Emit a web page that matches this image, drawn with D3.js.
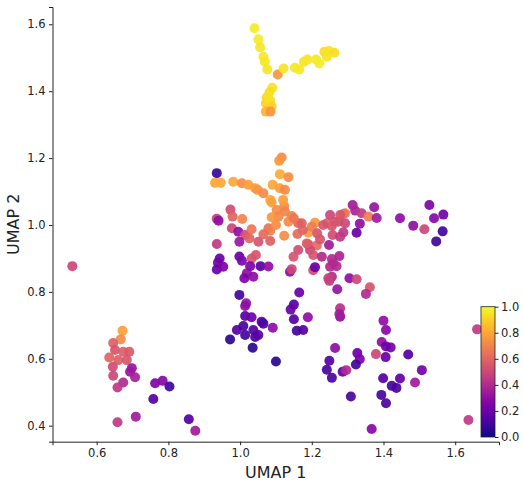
<!DOCTYPE html>
<html>
<head>
<meta charset="utf-8">
<script src="https://cdnjs.cloudflare.com/ajax/libs/d3/7.8.5/d3.min.js"></script>
<style>
  body { margin: 0; background: #fff; }
  svg text { font-family: "DejaVu Sans", sans-serif; fill: #222; }
</style>
</head>
<body>
<div id="my_dataviz"></div>
<script>
// UMAP coordinates and the colour value of each point
const umap1 = [
  1.040, 1.051, 1.056, 1.065, 1.069, 1.076, 1.105, 1.121, 1.153, 1.165, 1.178, 1.188, 1.212, 1.221, 1.235, 1.248, 1.263, 1.242,
  1.090, 1.082, 1.074, 1.072, 1.084, 1.088, 1.072, 1.085, 1.078,
  0.935, 0.930, 0.946, 0.981, 1.005, 1.023, 1.042, 1.049, 1.065, 1.084, 1.088, 1.091, 1.111, 1.125, 1.116, 1.109, 1.111, 1.135,
  1.102, 1.123, 1.125, 1.144, 1.107, 1.088, 1.135, 1.079, 1.084, 1.162, 1.160, 1.123, 1.190, 1.209, 1.200,
  0.973, 0.979, 1.006, 0.935, 0.940, 0.977, 0.995, 1.014, 1.032, 1.065, 1.026, 1.051, 0.998, 1.084, 0.935,
  1.162, 1.190, 1.214, 1.223, 1.248, 1.256, 1.242, 1.274, 1.288, 1.314, 1.321, 1.339, 1.358, 1.374, 1.381, 1.334, 1.325,
  1.288, 1.258, 1.279, 1.293, 1.232, 1.265, 1.279, 1.293, 1.195, 1.149, 1.204, 1.228, 1.256, 1.277, 1.269, 1.204, 1.209,
  1.139, 1.144, 1.256, 1.249, 1.305, 1.325, 1.362, 1.351, 1.271, 1.251, 1.260, 1.246,
  1.446, 1.483, 1.514, 1.528, 1.541, 1.567, 1.565, 1.547,
  0.943, 0.938, 0.935, 0.953, 0.998, 1.005, 1.032, 1.044, 1.028, 1.057, 1.079, 1.019, 1.012, 1.037,
  0.998, 1.017, 1.014, 1.165, 1.150, 1.141, 1.150, 1.189, 1.014, 1.032, 1.060, 0.991, 0.972, 1.009, 1.014, 1.037, 1.042,
  1.051, 1.091, 1.035, 1.100, 1.158, 1.176, 1.065, 1.279, 1.279, 1.277,
  1.400, 1.407, 1.395, 1.407, 1.420, 1.406, 1.379, 1.469, 1.265, 1.249, 1.242, 1.256, 1.286, 1.296, 1.327, 1.334, 1.323,
  1.399, 1.423, 1.436, 1.446, 1.507, 1.488, 1.309, 1.394, 1.407, 1.367, 1.637, 1.661,
  0.532, 0.672, 0.667, 0.646, 0.651, 0.635, 0.660, 0.674, 0.691, 0.684, 0.645, 0.646, 0.698, 0.693, 0.707, 0.674, 0.658,
  0.763, 0.784, 0.803, 0.758, 0.658, 0.709, 0.857, 0.875,
  1.251, 1.172, 1.186, 1.150, 1.175, 1.215, 1.100, 1.120
];
const umap2 = [
  1.588, 1.555, 1.531, 1.503, 1.488, 1.465, 1.450, 1.468, 1.470, 1.465, 1.488, 1.495, 1.495, 1.483, 1.518, 1.520, 1.515, 1.503,
  1.410, 1.397, 1.381, 1.364, 1.371, 1.354, 1.339, 1.339, 1.380,
  1.155, 1.126, 1.126, 1.129, 1.125, 1.120, 1.110, 1.105, 1.095, 1.075, 1.067, 1.120, 1.110, 1.105, 1.202, 1.192, 1.152, 1.143,
  1.045, 1.057, 1.040, 1.027, 1.025, 1.023, 1.010, 0.990, 0.983, 1.005, 0.973, 0.968, 0.977, 1.007, 0.995,
  1.046, 1.025, 1.018, 1.019, 1.013, 0.990, 0.980, 0.970, 0.987, 0.972, 0.960, 0.950, 0.950, 0.952, 0.943,
  0.925, 0.942, 0.939, 0.957, 0.940, 0.997, 1.005, 1.010, 1.033, 1.060, 1.043, 1.035, 1.025, 1.053, 1.021, 1.004, 0.977,
  0.978, 0.970, 0.965, 1.035, 1.000, 1.010, 1.030, 1.005, 0.925, 0.905, 0.910, 0.905, 0.898, 0.907, 0.877, 0.865, 0.874,
  0.860, 0.868, 0.845, 0.833, 0.841, 0.838, 0.814, 0.794, 0.808, 0.875, 0.885, 0.841,
  1.020, 0.998, 0.987, 1.060, 1.020, 1.031, 0.981, 0.951,
  0.900, 0.887, 0.867, 0.875, 0.906, 0.893, 0.900, 0.910, 0.877, 0.877, 0.876, 0.856, 0.841, 0.845,
  0.791, 0.766, 0.758, 0.798, 0.762, 0.747, 0.718, 0.724, 0.728, 0.724, 0.711, 0.686, 0.658, 0.698, 0.671, 0.686, 0.665,
  0.671, 0.693, 0.633, 0.592, 0.684, 0.686, 0.705, 0.751, 0.726, 0.734,
  0.714, 0.686, 0.650, 0.637, 0.634, 0.605, 0.614, 0.613, 0.632, 0.594, 0.567, 0.543, 0.561, 0.566, 0.617, 0.599, 0.583,
  0.542, 0.519, 0.513, 0.541, 0.566, 0.529, 0.487, 0.492, 0.467, 0.390, 0.417, 0.688,
  0.877, 0.684, 0.658, 0.647, 0.626, 0.604, 0.596, 0.621, 0.621, 0.596, 0.576, 0.549, 0.572, 0.561, 0.545, 0.529, 0.514,
  0.527, 0.534, 0.517, 0.480, 0.410, 0.427, 0.419, 0.385,
  1.030, 1.005, 0.945, 1.020, 0.985, 0.975, 1.000, 1.075
];
const score = [
  0.97, 0.97, 0.96, 0.96, 0.96, 0.95, 0.75, 0.95, 0.96, 0.96, 0.95, 0.96, 0.96, 0.97, 0.93, 0.95, 0.93, 0.95,
  0.95, 0.93, 0.92, 0.90, 0.93, 0.90, 0.83, 0.75, 0.94,
  0.08, 0.80, 0.80, 0.80, 0.72, 0.78, 0.77, 0.75, 0.72, 0.80, 0.78, 0.80, 0.77, 0.72, 0.73, 0.76, 0.81, 0.73,
  0.73, 0.72, 0.70, 0.70, 0.71, 0.76, 0.72, 0.65, 0.68, 0.62, 0.62, 0.72, 0.77, 0.76, 0.68,
  0.52, 0.60, 0.70, 0.48, 0.30, 0.50, 0.30, 0.52, 0.66, 0.62, 0.60, 0.55, 0.33, 0.58, 0.45,
  0.52, 0.52, 0.62, 0.55, 0.35, 0.55, 0.58, 0.55, 0.60, 0.35, 0.38, 0.45, 0.68, 0.32, 0.35, 0.30, 0.20,
  0.45, 0.52, 0.45, 0.66, 0.55, 0.55, 0.55, 0.50, 0.50, 0.55, 0.55, 0.40, 0.40, 0.38, 0.40, 0.52, 0.20,
  0.30, 0.50, 0.40, 0.45, 0.30, 0.50, 0.55, 0.40, 0.32, 0.40, 0.40, 0.48,
  0.30, 0.30, 0.50, 0.25, 0.28, 0.22, 0.10, 0.10,
  0.20, 0.22, 0.20, 0.25, 0.20, 0.25, 0.55, 0.55, 0.25, 0.15, 0.30, 0.30, 0.25, 0.30,
  0.10, 0.32, 0.30, 0.20, 0.15, 0.20, 0.15, 0.30, 0.15, 0.20, 0.15, 0.15, 0.05, 0.12, 0.10, 0.15, 0.12,
  0.15, 0.30, 0.05, 0.05, 0.10, 0.15, 0.12, 0.42, 0.30, 0.35,
  0.30, 0.28, 0.30, 0.20, 0.22, 0.20, 0.50, 0.15, 0.30, 0.15, 0.12, 0.12, 0.18, 0.40, 0.20, 0.25, 0.10,
  0.15, 0.12, 0.12, 0.18, 0.22, 0.35, 0.12, 0.12, 0.12, 0.28, 0.45, 0.45,
  0.50, 0.78, 0.72, 0.58, 0.55, 0.60, 0.58, 0.58, 0.56, 0.55, 0.52, 0.50, 0.32, 0.33, 0.36, 0.40, 0.45,
  0.25, 0.28, 0.10, 0.15, 0.45, 0.35, 0.15, 0.35,
  0.50, 0.58, 0.58, 0.66, 0.60, 0.55, 0.72, 0.78
];

const xTicks = [0.6, 0.8, 1.0, 1.2, 1.4, 1.6];
const yTicks = [0.4, 0.6, 0.8, 1.0, 1.2, 1.4, 1.6];
const cbTicks = [0.0, 0.2, 0.4, 0.6, 0.8, 1.0];

const points = umap1.map((d, i) => ({ x: d, y: umap2[i], c: score[i] }));

let svg = d3.select("#my_dataviz")
    .append("svg")
    .attr("width", 523)
    .attr("height", 488);

let margin = { top: 7, left: 52.5 },
    width = 446.5,
    height = 434.7;

let g = svg.append("g")
    .attr("transform", "translate(" + margin.left + "," + margin.top + ")");

let x = d3.scaleLinear().domain([0.4767, 1.7222]).range([0, width]);
let y = d3.scaleLinear().domain([0.3521, 1.6517]).range([height, 0]);
let color = d3.scaleSequential(d3.interpolatePlasma).domain([0, 1]);

// points
g.selectAll("circle.pt")
    .data(points)
    .enter()
    .append("circle")
    .attr("class", "pt")
    .attr("cx", d => x(d.x))
    .attr("cy", d => y(d.y))
    .attr("r", 5)
    .attr("fill", d => color(d.c))
    .attr("fill-opacity", 0.92);

// axes (only left and bottom spines)
let xAxis = g.append("g")
    .attr("transform", "translate(0," + height + ")")
    .call(d3.axisBottom(x).tickValues(xTicks).tickFormat(d3.format(".1f")).tickSizeOuter(0).tickSize(3.5).tickPadding(3.5));
let yAxis = g.append("g")
    .call(d3.axisLeft(y).tickValues(yTicks).tickFormat(d3.format(".1f")).tickSizeOuter(0).tickSize(3.5).tickPadding(3.5));

[xAxis, yAxis].forEach(a => {
    a.selectAll("text").style("font-size", "11.5px").attr("fill", "#222");
    a.selectAll("line").attr("stroke", "#222");
    a.select(".domain").attr("stroke", "#222").attr("stroke-width", 1);
});

svg.append("text")
    .attr("x", margin.left + width / 2)
    .attr("y", 478)
    .attr("text-anchor", "middle")
    .style("font-size", "16px")
    .text("UMAP 1");

svg.append("text")
    .attr("transform", "translate(19," + (margin.top + height / 2) + ") rotate(-90)")
    .attr("text-anchor", "middle")
    .style("font-size", "16px")
    .text("UMAP 2");

// colorbar
let cb = { x: 481, y: 306.7, w: 14, h: 130.3 };
let defs = svg.append("defs");
let grad = defs.append("linearGradient")
    .attr("id", "plasma")
    .attr("x1", "0%").attr("y1", "100%")
    .attr("x2", "0%").attr("y2", "0%");
grad.selectAll("stop")
    .data(d3.range(0, 1.001, 0.05))
    .enter()
    .append("stop")
    .attr("offset", d => (d * 100) + "%")
    .attr("stop-color", d => color(d));

svg.append("rect")
    .attr("x", cb.x).attr("y", cb.y)
    .attr("width", cb.w).attr("height", cb.h)
    .attr("fill", "url(#plasma)")
    .attr("stroke", "#222")
    .attr("stroke-width", 0.8);

let cbScale = d3.scaleLinear().domain([0, 1]).range([cb.y + cb.h, cb.y]);
let cbAxis = svg.append("g")
    .attr("transform", "translate(" + (cb.x + cb.w) + ",0)")
    .call(d3.axisRight(cbScale).tickValues(cbTicks).tickFormat(d3.format(".1f")).tickSizeOuter(0).tickSize(3.5).tickPadding(2.5));
cbAxis.select(".domain").remove();
cbAxis.selectAll("text").style("font-size", "11.5px").attr("fill", "#222");
cbAxis.selectAll("line").attr("stroke", "#222");
</script>
</body>
</html>
